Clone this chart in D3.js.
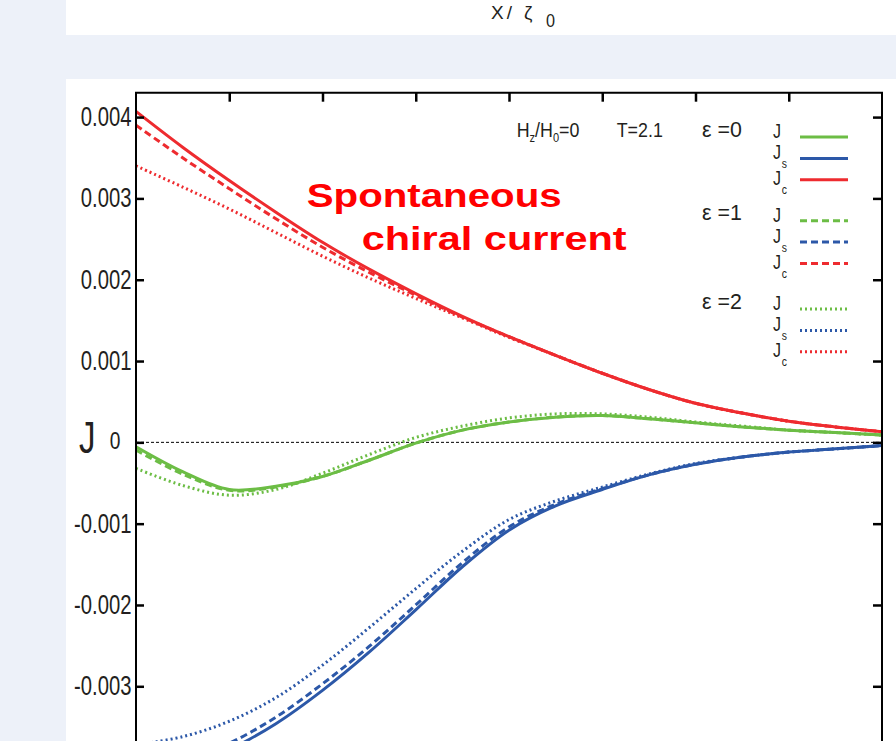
<!DOCTYPE html>
<html>
<head>
<meta charset="utf-8">
<script src="https://cdn.jsdelivr.net/npm/d3@7"></script>
<style>
  html, body { margin: 0; padding: 0; background: #edf1f9; overflow: hidden; }
  svg { display: block; }
  text { font-family: "Liberation Sans", Arial, sans-serif; fill: #231f20; }
</style>
</head>
<body>
<svg id="chart" width="896" height="741"></svg>
<script>
// position along the sample, x / xi0
const xs = [0, 0.5, 1, 1.5, 2, 2.5, 3, 3.5, 4, 4.5, 5, 5.5, 6, 6.5, 7, 7.5, 8];

// epsilon = 0
const jE0  = [-0.000054, -0.00036, -0.00058, -0.00054, -0.00042, -0.00022, -0.00001, 0.00015, 0.00025, 0.00031, 0.00033, 0.00029, 0.00024, 0.00019, 0.00015, 0.00012, 0.00009];
const jsE0 = [-0.00412, -0.00402, -0.00378, -0.00346, -0.00305, -0.00258, -0.00206, -0.00153, -0.00108, -0.00078, -0.00058, -0.00040, -0.00027, -0.00018, -0.00012, -0.00008, -0.00004];
const jcE0 = [0.00407, 0.00363, 0.00322, 0.00283, 0.00246, 0.00213, 0.00183, 0.00155, 0.00130, 0.00107, 0.00085, 0.00065, 0.00048, 0.00036, 0.00026, 0.00019, 0.00013];

// epsilon = 1
const jE1  = [-0.000095, -0.00039, -0.00059, -0.00055, -0.00042, -0.00022, -0.00001, 0.00015, 0.00025, 0.00031, 0.00033, 0.00029, 0.00024, 0.00019, 0.00015, 0.00012, 0.00009];
const jsE1 = [-0.00400, -0.00392, -0.00370, -0.00338, -0.00297, -0.00251, -0.00200, -0.00148, -0.00104, -0.00076, -0.00057, -0.00040, -0.00027, -0.00018, -0.00012, -0.00008, -0.00004];
const jcE1 = [0.00390, 0.00350, 0.00312, 0.00275, 0.00240, 0.00209, 0.00181, 0.00154, 0.00130, 0.00107, 0.00085, 0.00065, 0.00048, 0.00036, 0.00026, 0.00019, 0.00013];

// epsilon = 2
const jE2  = [-0.00032, -0.00053, -0.00065, -0.00058, -0.00038, -0.00015, 0.00006, 0.00020, 0.00030, 0.00035, 0.00035, 0.00031, 0.00025, 0.00020, 0.00015, 0.00012, 0.00009];
const jsE2 = [-0.00372, -0.00362, -0.00343, -0.00314, -0.00274, -0.00228, -0.00180, -0.00134, -0.00095, -0.00072, -0.00055, -0.00039, -0.00026, -0.00018, -0.00012, -0.00008, -0.00004];
const jcE2 = [0.00340, 0.00314, 0.00287, 0.00258, 0.00229, 0.00202, 0.00177, 0.00153, 0.00129, 0.00107, 0.00085, 0.00065, 0.00048, 0.00036, 0.00026, 0.00019, 0.00013];

const xTicks = [0, 1, 2, 3, 4, 5, 6, 7, 8];
const yTicks = [-0.004, -0.003, -0.002, -0.001, 0, 0.001, 0.002, 0.003, 0.004];
const yTickLabels = ["", "-0.003", "-0.002", "-0.001", "", "0.001", "0.002", "0.003", "0.004"];

const epsilonLabels = ["ε =0", "ε =1", "ε =2"];
const componentNames = ["J", "J", "J"];
const componentSubs = ["", "s", "c"];

const colors = { J: "#6cbd45", Js: "#2c58a8", Jc: "#ee2b2f" };
const dashes = ["none", "7,4", "2,3"];

const seriesByEps = [
  [jE0, jsE0, jcE0],
  [jE1, jsE1, jcE1],
  [jE2, jsE2, jcE2]
];
const compColors = [colors.J, colors.Js, colors.Jc];

const svg = d3.select("#chart");

// page panels
svg.append("rect").attr("x", 66).attr("y", 0).attr("width", 830).attr("height", 35).attr("fill", "#ffffff");
svg.append("rect").attr("x", 66).attr("y", 79).attr("width", 830).attr("height", 700).attr("fill", "#ffffff");

function condText(parent, px, py, size, sx, anchor) {
  return parent.append("text")
    .attr("transform", `translate(${px},${py}) scale(${sx},1)`)
    .attr("font-size", size)
    .attr("text-anchor", anchor || "start");
}

// axis title of the panel above
condText(svg, 491, 19, 19, 1.0).attr("letter-spacing", 3).text("X/");
condText(svg, 524, 19, 19, 1.0).text("ζ");
condText(svg, 546, 27, 18, 0.9).text("0");

// plot area
const plotLeft = 136, plotRight = 882, plotTop = 92.7, plotBottom = 792;
const x = d3.scaleLinear().domain([0, 8]).range([plotLeft, plotRight]);
const y = d3.scaleLinear().domain([-0.0043, 0.0043]).range([plotBottom, plotTop]);

svg.append("defs").append("clipPath").attr("id", "plotClip")
  .append("rect").attr("x", plotLeft).attr("y", plotTop)
  .attr("width", plotRight - plotLeft).attr("height", plotBottom - plotTop);

// zero reference line
svg.append("line")
  .attr("x1", x(0)).attr("x2", x(8)).attr("y1", y(0)).attr("y2", y(0))
  .attr("stroke", "#000").attr("stroke-width", 1).attr("stroke-dasharray", "3,2");

// curves
const line = d3.line().x((d, i) => x(xs[i])).y(d => y(d)).curve(d3.curveCatmullRom.alpha(0.5));
const curves = svg.append("g").attr("clip-path", "url(#plotClip)");
[2, 1, 0].forEach(e => {
  seriesByEps[e].forEach((vals, c) => {
    curves.append("path")
      .attr("d", line(vals))
      .attr("fill", "none")
      .attr("stroke", compColors[c])
      .attr("stroke-width", 3)
      .attr("stroke-dasharray", dashes[e]);
  });
});

// frame
svg.append("path")
  .attr("d", `M${plotLeft},${plotBottom}V${plotTop}H${plotRight}V${plotBottom}`)
  .attr("fill", "none").attr("stroke", "#000").attr("stroke-width", 2);

// axes with inward ticks
const axLeft = svg.append("g").attr("transform", `translate(${plotLeft},0)`)
  .call(d3.axisLeft(y).tickValues(yTicks).tickSize(-8).tickFormat((v, i) => yTickLabels[i]));
const axRight = svg.append("g").attr("transform", `translate(${plotRight},0)`)
  .call(d3.axisRight(y).tickValues(yTicks).tickSize(-9).tickFormat(""));
const axTop = svg.append("g").attr("transform", `translate(0,${plotTop})`)
  .call(d3.axisTop(x).tickValues(xTicks.slice(1, -1)).tickSize(-9).tickFormat(""));
[axLeft, axRight, axTop].forEach(a => {
  a.select(".domain").remove();
  a.selectAll(".tick line").attr("stroke", "#000").attr("stroke-width", 2.5);
});
axLeft.selectAll(".tick text")
  .attr("x", null).attr("dy", null).attr("y", null)
  .attr("fill", "#231f20")
  .attr("font-size", 27)
  .attr("text-anchor", "end")
  .attr("transform", "translate(-4.5,8.5) scale(0.75,1)");
axLeft.attr("font-family", null).attr("font-size", null);

// zero label and axis symbol
condText(svg, 115, y(0) + 7, 24, 0.8, "middle").text("0");
condText(svg, 79, y(0) + 11, 44, 0.75).text("J");

// header texts
const hz = condText(svg, 516.7, 136.7, 21, 0.85);
hz.append("tspan").text("H");
hz.append("tspan").attr("font-size", 13).attr("dy", 5).text("z");
hz.append("tspan").attr("dy", -5).text("/H");
hz.append("tspan").attr("font-size", 13).attr("dy", 5).text("0");
hz.append("tspan").attr("dy", -5).text("=0");
condText(svg, 616.7, 136.7, 21, 0.85).text("T=2.1");

// legend
const groupY = [137, 220.7, 309];
const rowStep = 21.4;
const jOffsets = [1, 1, 5];
epsilonLabels.forEach((lab, e) => {
  condText(svg, 702, groupY[e] - 0.5, 23, 0.93).text(lab);
  componentNames.forEach((nm, c) => {
    const ly = groupY[e] + c * rowStep;
    const t = condText(svg, 773, ly + jOffsets[c], 20, 0.8);
    t.append("tspan").text(nm);
    if (componentSubs[c]) t.append("tspan").attr("font-size", 13).attr("dx", 1).attr("dy", 9).text(componentSubs[c]);
    svg.append("line")
      .attr("x1", 800).attr("x2", 848).attr("y1", ly).attr("y2", ly)
      .attr("stroke", compColors[c]).attr("stroke-width", 3)
      .attr("stroke-dasharray", dashes[e]);
  });
});

// annotation
svg.append("text").attr("x", 306.7).attr("y", 206.7)
  .attr("font-family", "'DejaVu Sans', sans-serif").attr("font-weight", "bold")
  .attr("font-size", 34).style("fill", "#ff0000")
  .attr("textLength", 255).attr("lengthAdjust", "spacingAndGlyphs")
  .text("Spontaneous");
svg.append("text").attr("x", 361.7).attr("y", 250)
  .attr("font-family", "'DejaVu Sans', sans-serif").attr("font-weight", "bold")
  .attr("font-size", 34).style("fill", "#ff0000")
  .attr("textLength", 265).attr("lengthAdjust", "spacingAndGlyphs")
  .text("chiral current");
</script>
</body>
</html>
